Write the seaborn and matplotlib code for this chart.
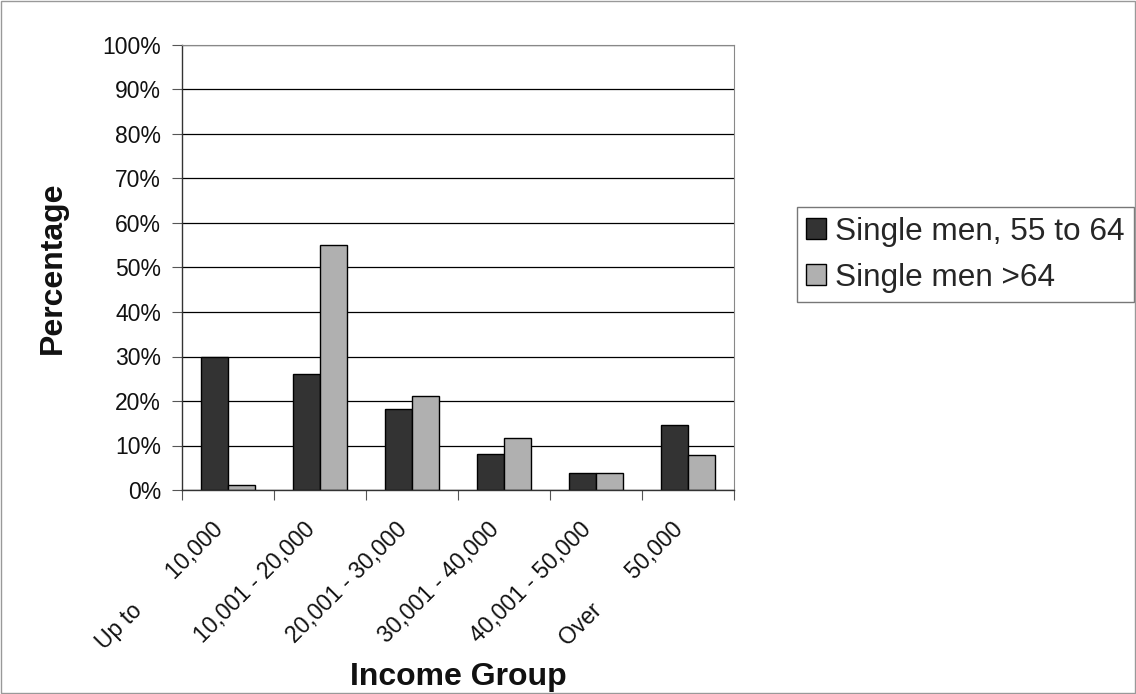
import matplotlib
matplotlib.use("Agg")
import matplotlib.pyplot as plt
import matplotlib.transforms as mtransforms
import seaborn as sns
import pandas as pd
import numpy as np
from matplotlib.ticker import FixedLocator, PercentFormatter

categories = ["Up to       10,000", "10,001 - 20,000", "20,001 - 30,000",
              "30,001 - 40,000", "40,001 - 50,000", "Over       50,000"]
series_names = ["Single men, 55 to 64", "Single men >64"]
men_55_64 = [30.0, 26.0, 18.2, 8.0, 3.9, 14.5]
men_over_64 = [1.2, 55.0, 21.1, 11.6, 3.9, 7.8]
y_ticks = list(range(0, 101, 10))

df = pd.DataFrame({
    "Income Group": categories * 2,
    "Percentage": men_55_64 + men_over_64,
    "Series": [series_names[0]] * len(categories) + [series_names[1]] * len(categories),
})

sns.set_theme(style="white")
plt.rcParams['font.family'] = ['Liberation Sans', 'DejaVu Sans']

W, H = 1136, 694
fig = plt.figure(figsize=(W / 100, H / 100), dpi=100)
ax_l, ax_r, ax_t, ax_b = 182, 734, 45, 490
ax = fig.add_axes([ax_l / W, 1 - ax_b / H, (ax_r - ax_l) / W, (ax_b - ax_t) / H])

sns.barplot(data=df, x="Income Group", y="Percentage", hue="Series",
            palette=["#333333", "#b0b0b0"], width=0.58, edgecolor="black",
            linewidth=1.0, ax=ax, saturation=1)

ax.set_ylim(0, 100)
ax.set_xlim(-0.5, len(categories) - 0.5)
ax.set_yticks(y_ticks)
ax.yaxis.set_major_formatter(PercentFormatter(decimals=0))
ax.yaxis.grid(True, color="black", linewidth=0.9)
ax.set_axisbelow(True)
ax.tick_params(axis="y", labelsize=16.5, left=True, length=7, width=0.8, color="#555555", pad=8,
               labelcolor="#111111")

ax.set_xticks(range(len(categories)))
ax.set_xticklabels(categories, rotation=45, ha="right", va="center", rotation_mode="anchor",
                   fontsize=16.5, color="#111111")
ax.tick_params(axis="x", which="major", bottom=False, length=0, pad=26)
ax.xaxis.set_minor_locator(FixedLocator(np.arange(-0.5, len(categories), 1.0)))
ax.tick_params(axis="x", which="minor", bottom=True, length=7, width=0.8, color="#555555")
shift = mtransforms.ScaledTranslation(-6 / 72, 0, fig.dpi_scale_trans)
for lab in ax.get_xticklabels():
    lab.set_transform(lab.get_transform() + shift)

for s in ["left", "bottom"]:
    ax.spines[s].set_color("#333333")
    ax.spines[s].set_linewidth(1.0)
for s in ["top", "right"]:
    ax.spines[s].set_color("#888888")
    ax.spines[s].set_linewidth(0.8)

ax.set_xlabel("Income Group", fontsize=23, fontweight="bold", color="#111111")
ax.xaxis.set_label_coords(0.5, (ax_b - 662) / (ax_b - ax_t))
ax.set_ylabel("Percentage", fontsize=23, fontweight="bold", color="#111111")
ax.yaxis.set_label_coords((68 - ax_l) / (ax_r - ax_l), 0.5)

handles, labels = ax.get_legend_handles_labels()
ax.legend(handles, labels, loc="lower left", bbox_to_anchor=(797 / W, 1 - 302 / H),
          bbox_transform=fig.transFigure, borderaxespad=0,
          fontsize=22.7, frameon=True, fancybox=False, edgecolor="#555555", handlelength=0.62,
          handleheight=0.62, handletextpad=0.3, borderpad=0.3, labelspacing=0.5)

fig.patches.append(matplotlib.patches.Rectangle((0.001, 0.002), 0.998, 0.996, transform=fig.transFigure,
                                                fill=False, edgecolor="#999999", linewidth=1.0))

fig.savefig("out.png", dpi=100)
